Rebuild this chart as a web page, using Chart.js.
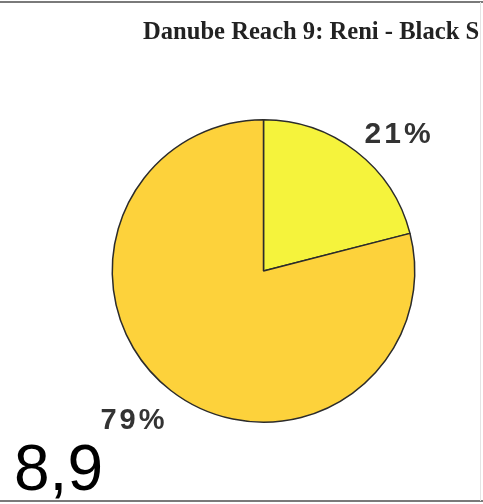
<!DOCTYPE html>
<html>
<head>
<meta charset="utf-8">
<script src="https://cdn.jsdelivr.net/npm/chart.js@4.4.0/dist/chart.umd.min.js"></script>
<style>
html, body { margin: 0; padding: 0; background: #fff; }
#wrap { position: relative; width: 483px; height: 504px; }
</style>
</head>
<body>
<div id="wrap"><canvas id="myChart"></canvas></div>
<script>
// data
var chartTitle = 'Danube Reach 9: Reni - Black Sea';
var sliceNames = ['Share 1', 'Share 2'];
var sliceValues = [21, 79];
var cornerNote = '8,9';

// styles
var sliceColors = ['#f5f33c', '#fdd23b'];
var labelFonts = ['bold 30px "Liberation Sans"', 'bold 29px "Liberation Sans"'];

var extras = {
    id: 'extras',
    afterDraw: function (chart) {
        var ctx = chart.ctx;
        var w = chart.width, h = chart.height;
        ctx.save();

        // frame lines
        ctx.strokeStyle = '#7a7a7a';
        ctx.lineWidth = 2;
        ctx.beginPath();
        ctx.moveTo(0, 2); ctx.lineTo(w, 2);
        ctx.moveTo(0, 501); ctx.lineTo(w, 501);
        ctx.stroke();
        ctx.strokeStyle = '#e4e4e4';
        ctx.lineWidth = 1;
        ctx.beginPath();
        ctx.moveTo(480.5, 2); ctx.lineTo(480.5, 501);
        ctx.stroke();

        // title, cut off at the right like the original
        ctx.save();
        ctx.beginPath();
        ctx.rect(0, 0, 480, h);
        ctx.clip();
        ctx.font = 'bold 24.6px "Liberation Serif"';
        ctx.fillStyle = '#222';
        ctx.textBaseline = 'middle';
        ctx.textAlign = 'left';
        ctx.fillText(chartTitle, 143, 33);
        ctx.restore();

        // percentage labels
        var meta = chart.getDatasetMeta(0);
        var total = sliceValues.reduce(function (a, b) { return a + b; }, 0);
        ctx.fillStyle = '#333';
        ctx.textAlign = 'center';
        ctx.textBaseline = 'middle';
        ctx.letterSpacing = '3px';
        meta.data.forEach(function (arc, i) {
            var mid = (arc.startAngle + arc.endAngle) / 2 + 0.087;
            var d = arc.outerRadius * 1.29;
            var x = arc.x + Math.cos(mid) * d + 3;
            var y = arc.y + Math.sin(mid) * d + 7;
            ctx.font = labelFonts[i];
            ctx.fillText(Math.round(sliceValues[i] / total * 100) + '%', x, y);
        });
        ctx.letterSpacing = '0px';

        // big note in the corner
        ctx.font = '64px "Liberation Sans"';
        ctx.fillStyle = '#000';
        ctx.textAlign = 'left';
        ctx.textBaseline = 'alphabetic';
        ctx.fillText(cornerNote, 14, 490);
        ctx.restore();
    }
};

var ctx = document.getElementById('myChart').getContext('2d');
var chart = new Chart(ctx, {
    type: 'pie',
    data: {
        labels: sliceNames,
        datasets: [{
            data: sliceValues,
            backgroundColor: sliceColors,
            borderColor: '#2b2b2b',
            borderWidth: 1.5
        }]
    },
    options: {
        responsive: true,
        maintainAspectRatio: false,
        animation: false,
        layout: { padding: { left: 111, right: 67, top: 119, bottom: 81 } },
        plugins: {
            legend: { display: false },
            tooltip: { enabled: false }
        }
    },
    plugins: [extras]
});
</script>
</body>
</html>
